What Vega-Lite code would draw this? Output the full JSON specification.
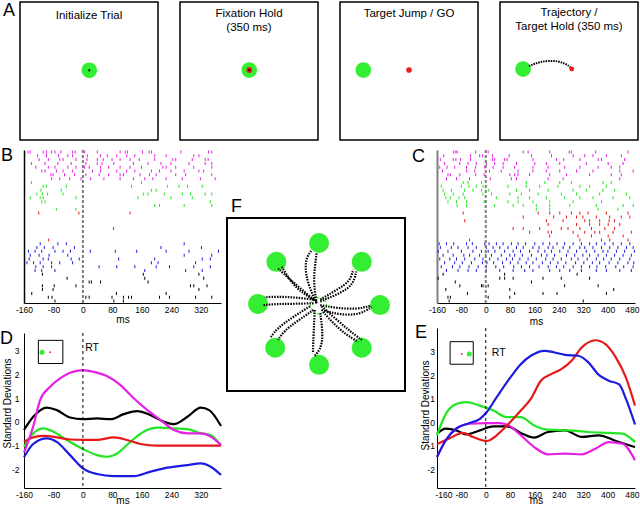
{
"$schema": "https://vega.github.io/schema/vega-lite/v6.json",
"background": "white",
"padding": {"left": 0, "top": 1, "right": 0, "bottom": 0},
"config": {
  "font": "Liberation Sans",
  "view": {"stroke": null},
  "axis": {"grid": false, "ticks": false, "domainColor": "black", "domainWidth": 1, "labelColor": "black", "titleColor": "black", "labelFontSize": 8.5, "titleFontSize": 10, "titleFontWeight": "normal", "labelPadding": 2, "labelFlush": false, "labelOverlap": false, "labelExpr": "'' + datum.value"},
  "title": {"fontWeight": "normal", "color": "black", "fontSize": 18}
},
"datasets": {
  "task": [
    {"box": 1, "obj": "start", "x": 0.502, "y": 0.505},
    {"box": 1, "obj": "cursor", "x": 0.502, "y": 0.505},
    {"box": 2, "obj": "start", "x": 0.502, "y": 0.507},
    {"box": 2, "obj": "target", "x": 0.502, "y": 0.507},
    {"box": 2, "obj": "cursor", "x": 0.502, "y": 0.507},
    {"box": 3, "obj": "start", "x": 0.169, "y": 0.507},
    {"box": 3, "obj": "target", "x": 0.5, "y": 0.507},
    {"box": 4, "obj": "start", "x": 0.167, "y": 0.514},
    {"box": 4, "obj": "target", "x": 0.52, "y": 0.514}
  ],
  "pathA": [
    {"i": 0, "x": 0.21, "y": 0.535}, {"i": 1, "x": 0.25, "y": 0.553}, {"i": 2, "x": 0.3, "y": 0.567},
    {"i": 3, "x": 0.36, "y": 0.575}, {"i": 4, "x": 0.42, "y": 0.571}, {"i": 5, "x": 0.47, "y": 0.555},
    {"i": 6, "x": 0.505, "y": 0.533}, {"i": 7, "x": 0.52, "y": 0.514}
  ],
  "rasterB": [
    {"trial": 1, "dir": "magenta", "ms": [-149,-143,-108,-99,-85,-76,-60,-28,-21,5,39,101,115,121,162,180,186,266,341,350]},
    {"trial": 2, "dir": "magenta", "ms": [-123,-99,-66,-41,-28,12,48,66,92,119,141,195,226,301,315]},
    {"trial": 3, "dir": "magenta", "ms": [-119,-94,-63,-54,-19,11,39,55,79,101,128,153,195,244,252,297,332,340]},
    {"trial": 4, "dir": "magenta", "ms": [-140,-103,-68,-32,8,39,52,84,137,177,212,239,288,332,350]},
    {"trial": 5, "dir": "magenta", "ms": [-128,-94,-76,-41,-19,4,17,48,70,101,128,159,217,226,252,301,350]},
    {"trial": 6, "dir": "magenta", "ms": [-112,-103,-72,-54,-28,-1,26,48,92,119,141,186,208,239,275,315,328]},
    {"trial": 7, "dir": "magenta", "ms": [-87,-81,-50,-23,8,44,70,101,110,155,181,199,252,279,350]},
    {"trial": 8, "dir": "magenta", "ms": [-85,-63,-36,-5,21,57,101,137,168,190,226,270,319,359]},
    {"trial": 9, "dir": "green", "ms": [-140,159]},
    {"trial": 10, "dir": "green", "ms": [-108,-99,-45,132,230,261,284,324]},
    {"trial": 11, "dir": "green", "ms": [-114,-59,186,199]},
    {"trial": 12, "dir": "green", "ms": [-125,-110,-96,-54,164,177,221,270,292,332,350]},
    {"trial": 13, "dir": "green", "ms": [-143,-116,-108,-19,150,239,297]},
    {"trial": 14, "dir": "green", "ms": [-112,-103,346]},
    {"trial": 15, "dir": "green", "ms": [195,208,275,350]},
    {"trial": 16, "dir": "green", "ms": [-72,-19]},
    {"trial": 17, "dir": "red", "ms": [-120,-11,128]},
    {"trial": 21, "dir": "red", "ms": [83]},
    {"trial": 24, "dir": "red", "ms": [-93]},
    {"trial": 25, "dir": "blue", "ms": [-116,-68,-45,275]},
    {"trial": 26, "dir": "blue", "ms": [-125,-105,-81,-23,212,322]},
    {"trial": 27, "dir": "blue", "ms": [-148,-130,-112,-76,-54,-34,20,88,146,226,288,368]},
    {"trial": 28, "dir": "blue", "ms": [-143,-119,-92,-41,275,350]},
    {"trial": 29, "dir": "blue", "ms": [-146,-108,-94,-32,-10,97,195,324,346]},
    {"trial": 30, "dir": "blue", "ms": [-152,-134,-116,-85,-63,-28,186,204,306]},
    {"trial": 31, "dir": "blue", "ms": [-128,-108,-85,44,92,141,199,235,301,346]},
    {"trial": 32, "dir": "blue", "ms": [-130,-112,-76,168,279,324]},
    {"trial": 33, "dir": "black", "ms": [-110,164,315]},
    {"trial": 34, "dir": "black", "ms": [-43,168,328]},
    {"trial": 35, "dir": "black", "ms": [17,23,48,177]},
    {"trial": 36, "dir": "black", "ms": [-110,-78,-19,292,301,337]},
    {"trial": 37, "dir": "black", "ms": [-110,-81,315]},
    {"trial": 38, "dir": "black", "ms": [-139,91,226]},
    {"trial": 39, "dir": "black", "ms": [-94,-84,8,17,79,110,124,132,208,235,306,350]},
    {"trial": 40, "dir": "black", "ms": [-76,84,110]}
  ],
  "rasterC": [
    {"trial": 1, "dir": "magenta", "ms": [-105,-98,-94,-33,8,123,139,210,274,281,361,467]},
    {"trial": 2, "dir": "magenta", "ms": [-138,-50,-20,-11,22,77,150,216,287,325,352,396,445]},
    {"trial": 3, "dir": "magenta", "ms": [-149,-107,-98,-83,-50,22,29,62,70,155,232,256,309,369,380,456]},
    {"trial": 4, "dir": "magenta", "ms": [-135,-85,-58,-31,2,29,57,101,161,199,243,330,402,451]},
    {"trial": 5, "dir": "magenta", "ms": [-151,-127,-102,-63,-33,-3,24,57,95,155,205,259,309,369,412,440]},
    {"trial": 6, "dir": "magenta", "ms": [-142,-63,-36,12,51,106,155,199,243,298,352,440,484]},
    {"trial": 7, "dir": "magenta", "ms": [-124,-116,-85,-33,-5,79,95,106,144,210,265,341,412,445]},
    {"trial": 8, "dir": "magenta", "ms": [-129,-96,-53,15,84,101,205,254,440]},
    {"trial": 9, "dir": "green", "ms": [-74,-58,-14,133,194,243,281,385,412]},
    {"trial": 10, "dir": "green", "ms": [-146,-80,-55,-31,-9,73,133,177,237,309,341,396]},
    {"trial": 11, "dir": "green", "ms": [-140,-113,-69,-42,-14,10,101,144,205,287,330,385,423]},
    {"trial": 12, "dir": "green", "ms": [-135,-107,-74,-9,19,79,117,172,248,298,374,462]},
    {"trial": 13, "dir": "green", "ms": [-131,-116,-88,-69,35,106,144,199,259,309,352,418,473]},
    {"trial": 14, "dir": "green", "ms": [-124,-96,-63,-5,73,106,155,210,287,380]},
    {"trial": 15, "dir": "green", "ms": [-94,-63,29,90,123,166,210,276,363,451,484]},
    {"trial": 16, "dir": "green", "ms": [166,210,369,434]},
    {"trial": 17, "dir": "red", "ms": [-74,172,210,243,281,309,336,396,467]},
    {"trial": 18, "dir": "red", "ms": [123,223,265,298,319,363,407,445,473]},
    {"trial": 19, "dir": "red", "ms": [-69,199,254,325,341,374,405,423]},
    {"trial": 20, "dir": "red", "ms": [205,298,341,374,402,440]},
    {"trial": 21, "dir": "red", "ms": [90,123,177,248,270,309,347,391,423]},
    {"trial": 22, "dir": "red", "ms": [144,205,216,287,325,358,374,418,478]},
    {"trial": 23, "dir": "red", "ms": [210,303,347,402,451]},
    {"trial": 24, "dir": "red", "ms": [-53,309,380,407,467]},
    {"trial": 25, "dir": "blue", "ms": [-153,-129,-105,-63,-44,-3,11,35,57,84,106,131,161,188,210,234,259,287,314,341,363,391,418,445,473]},
    {"trial": 26, "dir": "blue", "ms": [-149,-113,-91,-58,-31,2,24,46,73,101,123,155,175,205,221,254,276,309,325,352,380,407,434,462,484]},
    {"trial": 27, "dir": "blue", "ms": [-156,-124,-80,-42,-14,8,30,62,90,114,144,172,194,216,243,270,298,330,358,385,401,429,456,488]},
    {"trial": 28, "dir": "blue", "ms": [-140,-107,-72,-53,-20,0,19,51,79,95,120,150,183,201,226,265,292,319,341,369,396,423,451,478]},
    {"trial": 29, "dir": "blue", "ms": [-151,-118,-96,-69,-36,-9,13,40,68,88,112,139,166,197,221,248,281,303,333,363,387,412,440,473]},
    {"trial": 30, "dir": "blue", "ms": [-135,-102,-77,-47,-11,4,26,55,81,106,133,155,186,212,237,263,295,322,350,374,405,434,467,486]},
    {"trial": 31, "dir": "blue", "ms": [-146,-109,-85,-55,-25,2,33,59,92,117,144,175,205,232,256,287,314,341,365,394,427,453,484]},
    {"trial": 32, "dir": "blue", "ms": [-129,-91,-58,-31,2,46,90,128,155,210,243,276,314,363,396,440,478]},
    {"trial": 33, "dir": "black", "ms": [-140,62,300]},
    {"trial": 34, "dir": "black", "ms": [-156,46,62,90,188,248,341]},
    {"trial": 35, "dir": "black", "ms": [-100,150]},
    {"trial": 36, "dir": "black", "ms": [-85,-14,-9,8,259,369]},
    {"trial": 37, "dir": "black", "ms": [-131,79,420]},
    {"trial": 38, "dir": "black", "ms": [-60,95,188,234,396]},
    {"trial": 39, "dir": "black", "ms": [-124,-116,8,79]},
    {"trial": 40, "dir": "black", "ms": [-120,320]}
  ],
  "sdD": [
    {"dir": "black", "ms": [-160,-135,-98,-71,-35,0,38,75,111,147,184,220,247,284,320,343,375], "sd": [-0.35,0.21,0.6,0.49,0.18,0.11,0.14,0.11,0.32,0.45,0.28,0,-0.1,0.21,0.6,0.49,-0.18]},
    {"dir": "green", "ms": [-160,-135,-107,-80,-44,0,38,65,93,129,165,202,247,284,320,347,375], "sd": [-1.06,-0.49,-0.28,-0.42,-0.77,-1.15,-1.41,-1.48,-1.34,-0.85,-0.42,-0.25,-0.28,-0.31,-0.49,-0.56,-1.01]},
    {"dir": "red", "ms": [-160,-135,-107,-71,-35,0,38,84,120,156,202,247,320,375], "sd": [-0.85,-0.66,-0.6,-0.66,-0.75,-0.77,-0.77,-0.66,-0.77,-0.94,-1.01,-1.01,-1.01,-1.01]},
    {"dir": "blue", "ms": [-160,-135,-98,-71,-35,0,38,84,138,184,229,284,320,347,375], "sd": [-1.5,-0.94,-0.7,-0.85,-1.41,-1.97,-2.21,-2.3,-2.3,-2.11,-1.94,-1.83,-1.76,-1.9,-2.25]},
    {"dir": "magenta", "ms": [-160,-135,-116,-89,-62,-35,0,29,65,102,138,175,211,247,284,320,347,375], "sd": [-1.3,-0.2,0.92,1.48,1.83,2.07,2.18,2.11,1.93,1.55,0.99,0.49,0.07,-0.35,-0.49,-0.49,-0.63,-0.99]}
  ],
  "sdE": [
    {"dir": "black", "ms": [-160,-131,-97,-64,-19,25,70,115,159,204,260,315,371,427,490], "sd": [-0.49,-0.28,-0.35,-0.52,-0.35,-0.18,-0.18,-0.46,-0.66,-0.42,-0.35,-0.63,-0.56,-0.8,-1.06]},
    {"dir": "green", "ms": [-160,-131,-97,-64,-19,25,70,115,159,204,271,337,404,449,490], "sd": [-0.56,0.35,0.77,0.85,0.7,0.49,0.21,0.21,-0.14,-0.32,-0.35,-0.42,-0.46,-0.49,-0.85]},
    {"dir": "magenta", "ms": [-160,-131,-97,-53,3,47,81,115,159,204,260,315,360,404,449,490], "sd": [-1.48,-0.77,-0.28,-0.07,-0.04,-0.04,-0.18,-0.56,-1.06,-1.37,-1.34,-1.37,-1.13,-0.85,-0.92,-1.62]},
    {"dir": "red", "ms": [-160,-120,-75,-42,3,36,70,115,148,181,215,248,282,315,360,393,427,460,490], "sd": [-0.94,-0.7,-0.46,-0.63,-0.8,-0.56,-0.14,0.49,0.99,1.76,2.04,2.25,2.61,3.17,3.48,3.31,2.75,1.9,0.7]},
    {"dir": "blue", "ms": [-160,-131,-97,-53,-19,3,36,81,115,148,193,226,260,304,337,371,404,438,460,490], "sd": [-1.48,-0.77,-0.28,-0.04,0.14,0.42,1.06,1.9,2.46,2.82,3.03,2.96,2.86,2.82,2.54,2.01,1.76,1.6,1.0,-0.1]}
  ],
  "targetsF": [
    {"x": 0, "y": 1.0}, {"x": 0.7, "y": 0.69}, {"x": 1.0, "y": -0.02}, {"x": 0.7, "y": -0.72},
    {"x": 0, "y": -1.0}, {"x": -0.72, "y": -0.72}, {"x": -1.0, "y": 0}, {"x": -0.7, "y": 0.69}
  ],
  "trajF": [
    {"traj": 1, "i": [0,1,2,3,4], "x": [-0.04,-0.19,-0.23,-0.2,-0.12], "y": [0.01,0.34,0.61,0.78,0.88]},
    {"traj": 2, "i": [0,1,2,3], "x": [-0.04,-0.09,-0.07,-0.04], "y": [0.01,0.34,0.61,0.83]},
    {"traj": 3, "i": [0,1,2,3], "x": [0.02,0.29,0.51,0.56], "y": [0.07,0.23,0.37,0.56]},
    {"traj": 4, "i": [0,1,2,3], "x": [0.02,0.34,0.56,0.61], "y": [0.04,0.17,0.31,0.53]},
    {"traj": 5, "i": [0,1,2,3], "x": [0.02,0.29,0.62,0.84], "y": [-0.02,-0.07,-0.09,-0.03]},
    {"traj": 6, "i": [0,1,2,3], "x": [0.04,0.34,0.67,0.86], "y": [-0.1,-0.18,-0.18,-0.05]},
    {"traj": 7, "i": [0,1,2,3], "x": [0.04,0.29,0.51,0.7], "y": [-0.04,-0.26,-0.45,-0.59]},
    {"traj": 8, "i": [0,1,2,3], "x": [0.07,0.23,0.45,0.64], "y": [-0.13,-0.32,-0.51,-0.62]},
    {"traj": 9, "i": [0,1,2], "x": [-0.07,-0.09,-0.1], "y": [-0.1,-0.48,-0.81]},
    {"traj": 10, "i": [0,1,2,3], "x": [0.02,0.07,0.02,-0.07], "y": [-0.15,-0.54,-0.75,-0.85]},
    {"traj": 11, "i": [0,1,2,3], "x": [-0.15,-0.42,-0.69,-0.8], "y": [-0.04,-0.21,-0.4,-0.56]},
    {"traj": 12, "i": [0,1,2,3], "x": [-0.09,-0.37,-0.58,-0.67], "y": [-0.1,-0.29,-0.45,-0.59]},
    {"traj": 13, "i": [0,1,2,3], "x": [-0.09,-0.42,-0.69,-0.89], "y": [0.07,0.11,0.12,0.11]},
    {"traj": 14, "i": [0,1,2,3], "x": [-0.09,-0.48,-0.69,-0.91], "y": [0.01,0,0,-0.02]},
    {"traj": 15, "i": [0,1,2,3], "x": [-0.09,-0.31,-0.5,-0.67], "y": [0.07,0.26,0.42,0.58]},
    {"traj": 16, "i": [0,1,2,3], "x": [-0.04,-0.26,-0.45,-0.61], "y": [0.04,0.17,0.34,0.61]}
  ]
},
"bounds": "flush",
"spacing": 148,
"vconcat": [
  {
    "bounds": "flush",
    "spacing": 22,
    "hconcat": [
      {
        "width": 138, "height": 138,
        "view": {"stroke": "black", "strokeWidth": 1.5},
        "title": {"text": "A", "anchor": "start", "frame": "group", "orient": "top", "offset": 0, "dx": -17, "dy": 17.8, "baseline": "top", "align": "left"},
        "layer": [
          {"data": {"name": "task"}, "transform": [{"filter": "datum.box === 1 && datum.obj === 'start'"}], "mark": {"type": "circle", "color": "#33ee33", "size": 246, "opacity": 1},
           "encoding": {"x": {"field": "x", "type": "quantitative", "scale": {"domain": [0, 1], "nice": false, "zero": false}, "axis": null}, "y": {"field": "y", "type": "quantitative", "scale": {"domain": [0, 1], "nice": false, "zero": false}, "axis": null}}},
          {"data": {"name": "task"}, "transform": [{"filter": "datum.box === 1 && datum.obj === 'cursor'"}], "mark": {"type": "circle", "color": "#000000", "size": 5, "opacity": 1},
           "encoding": {"x": {"field": "x", "type": "quantitative"}, "y": {"field": "y", "type": "quantitative"}}},
          {"data": {"values": [{}]}, "mark": {"type": "text", "fontSize": 11.5, "align": "center", "baseline": "alphabetic", "color": "black"}, "encoding": {"x": {"datum": 0.5}, "y": {"datum": 0.875}, "text": {"value": "Initialize Trial"}}}
        ]
      },
      {
        "width": 138, "height": 138,
        "view": {"stroke": "black", "strokeWidth": 1.5},
        "layer": [
          {"data": {"name": "task"}, "transform": [{"filter": "datum.box === 2 && datum.obj === 'start'"}], "mark": {"type": "circle", "color": "#33ee33", "size": 246, "opacity": 1},
           "encoding": {"x": {"field": "x", "type": "quantitative", "scale": {"domain": [0, 1], "nice": false, "zero": false}, "axis": null}, "y": {"field": "y", "type": "quantitative", "scale": {"domain": [0, 1], "nice": false, "zero": false}, "axis": null}}},
          {"data": {"name": "task"}, "transform": [{"filter": "datum.box === 2 && datum.obj === 'target'"}], "mark": {"type": "circle", "color": "#ee1c1c", "size": 34, "opacity": 1},
           "encoding": {"x": {"field": "x", "type": "quantitative"}, "y": {"field": "y", "type": "quantitative"}}},
          {"data": {"name": "task"}, "transform": [{"filter": "datum.box === 2 && datum.obj === 'cursor'"}], "mark": {"type": "circle", "color": "#000000", "size": 5, "opacity": 1},
           "encoding": {"x": {"field": "x", "type": "quantitative"}, "y": {"field": "y", "type": "quantitative"}}},
          {"data": {"values": [{}]}, "mark": {"type": "text", "fontSize": 11.5, "align": "center", "baseline": "alphabetic", "lineHeight": 13.5, "color": "black"}, "encoding": {"x": {"datum": 0.5}, "y": {"datum": 0.889}, "text": {"value": ["Fixation Hold", "(350 ms)"]}}}
        ]
      },
      {
        "width": 138, "height": 138,
        "view": {"stroke": "black", "strokeWidth": 1.5},
        "layer": [
          {"data": {"name": "task"}, "transform": [{"filter": "datum.box === 3 && datum.obj === 'start'"}], "mark": {"type": "circle", "color": "#33ee33", "size": 246, "opacity": 1},
           "encoding": {"x": {"field": "x", "type": "quantitative", "scale": {"domain": [0, 1], "nice": false, "zero": false}, "axis": null}, "y": {"field": "y", "type": "quantitative", "scale": {"domain": [0, 1], "nice": false, "zero": false}, "axis": null}}},
          {"data": {"name": "task"}, "transform": [{"filter": "datum.box === 3 && datum.obj === 'target'"}], "mark": {"type": "circle", "color": "#ee1c1c", "size": 32, "opacity": 1},
           "encoding": {"x": {"field": "x", "type": "quantitative"}, "y": {"field": "y", "type": "quantitative"}}},
          {"data": {"values": [{}]}, "mark": {"type": "text", "fontSize": 11.5, "align": "center", "baseline": "alphabetic", "color": "black"}, "encoding": {"x": {"datum": 0.5}, "y": {"datum": 0.889}, "text": {"value": "Target Jump / GO"}}}
        ]
      },
      {
        "width": 138, "height": 138,
        "view": {"stroke": "black", "strokeWidth": 1.5},
        "layer": [
          {"data": {"name": "task"}, "transform": [{"filter": "datum.box === 4 && datum.obj === 'start'"}], "mark": {"type": "circle", "color": "#33ee33", "size": 246, "opacity": 1},
           "encoding": {"x": {"field": "x", "type": "quantitative", "scale": {"domain": [0, 1], "nice": false, "zero": false}, "axis": null}, "y": {"field": "y", "type": "quantitative", "scale": {"domain": [0, 1], "nice": false, "zero": false}, "axis": null}}},
          {"data": {"name": "pathA"}, "mark": {"type": "line", "color": "black", "strokeWidth": 2, "strokeDash": [1.5, 1], "interpolate": "basis"},
           "encoding": {"x": {"field": "x", "type": "quantitative"}, "y": {"field": "y", "type": "quantitative"}, "order": {"field": "i", "type": "quantitative"}}},
          {"data": {"name": "task"}, "transform": [{"filter": "datum.box === 4 && datum.obj === 'target'"}], "mark": {"type": "circle", "color": "#ee1c1c", "size": 24, "opacity": 1},
           "encoding": {"x": {"field": "x", "type": "quantitative"}, "y": {"field": "y", "type": "quantitative"}}},
          {"data": {"values": [{}]}, "mark": {"type": "text", "fontSize": 11.5, "align": "center", "baseline": "alphabetic", "lineHeight": 14, "color": "black"}, "encoding": {"x": {"datum": 0.5}, "y": {"datum": 0.899}, "text": {"value": ["Trajectory /", "Target Hold (350 ms)"]}}}
        ]
      }
    ]
  },
  {
    "bounds": "flush",
    "spacing": 3,
    "hconcat": [
      {"width": 1, "height": 1, "data": {"values": [{}]}, "mark": {"type": "point", "opacity": 0}},
      {
        "bounds": "flush",
        "spacing": 203,
        "hconcat": [
          {
            "bounds": "flush",
            "spacing": 30,
            "vconcat": [
              {
                "width": 197, "height": 153,
                "title": {"text": "B", "anchor": "start", "frame": "group", "orient": "top", "offset": 0, "dx": -23, "dy": 15.5, "baseline": "top", "align": "left"},
                "layer": [
                  {
                    "data": {"name": "rasterB"},
                    "transform": [{"flatten": ["ms"]}],
                    "mark": {"type": "tick", "orient": "vertical", "size": 3, "thickness": 1, "opacity": 1},
                    "encoding": {
                      "x": {"field": "ms", "type": "quantitative", "scale": {"domain": [-160, 375], "nice": false, "zero": false}, "axis": {"values": [-160, -80, 0, 80, 160, 240, 320], "tickCount": 20, "title": "ms", "titleY": 19.5, "titleBaseline": "alphabetic", "labelOverlap": false, "labelFlush": false}},
                      "y": {"field": "trial", "type": "quantitative", "scale": {"domain": [0.5, 40.5], "reverse": true, "nice": false, "zero": false}, "axis": {"title": null, "labels": false, "domainWidth": 1.5}},
                      "color": {"field": "dir", "type": "nominal", "scale": {"domain": ["magenta", "green", "red", "blue", "black"], "range": ["#e61ee6", "#22e622", "#e61919", "#1c1ce0", "#000000"]}, "legend": null}
                    }
                  },
                  {"data": {"values": [{}]}, "mark": {"type": "rule", "color": "#7f7f7f", "strokeWidth": 2, "strokeDash": [3, 2]}, "encoding": {"x": {"datum": 0}}}
                ]
              },
              {
                "width": 197, "height": 155,
                "title": {"text": "D", "anchor": "start", "frame": "group", "orient": "top", "offset": 0, "dx": -24, "dy": 15, "baseline": "top", "align": "left"},
                "layer": [
                  {
                    "data": {"name": "sdD"},
                    "transform": [{"flatten": ["ms", "sd"]}],
                    "mark": {"type": "line", "strokeWidth": 2.2, "interpolate": "monotone"},
                    "encoding": {
                      "x": {"field": "ms", "type": "quantitative", "scale": {"domain": [-160, 375], "nice": false, "zero": false}, "axis": {"values": [-160, -80, 0, 80, 160, 240, 320], "tickCount": 20, "title": "ms", "titleY": 15, "titleBaseline": "alphabetic", "labelOverlap": false, "labelFlush": false}},
                      "y": {"field": "sd", "type": "quantitative", "scale": {"domain": [-2.8, 3.75], "nice": false, "zero": false}, "axis": {"values": [-2, -1, 0, 1, 2, 3], "tickCount": 20, "title": "Standard Deviations", "labelPadding": 5, "titleX": -13.3, "titleY": 70, "titleBaseline": "alphabetic", "labelOverlap": false}},
                      "color": {"field": "dir", "type": "nominal", "scale": {"domain": ["magenta", "green", "red", "blue", "black"], "range": ["#e61ee6", "#22e622", "#e61919", "#1c1ce0", "#000000"]}, "legend": null}
                    }
                  },
                  {"data": {"values": [{}]}, "mark": {"type": "rule", "color": "black", "strokeWidth": 1, "strokeDash": [3, 3]}, "encoding": {"x": {"datum": 0}}},
                  {"data": {"values": [{}]}, "mark": {"type": "text", "fontSize": 10.5, "align": "left", "baseline": "alphabetic", "color": "black"}, "encoding": {"x": {"datum": 6}, "y": {"datum": 3.0}, "text": {"value": "RT"}}},
                  {"data": {"values": [{}]}, "mark": {"type": "rect", "fill": "white", "stroke": "black", "strokeWidth": 1}, "encoding": {"x": {"datum": -121}, "x2": {"datum": -54.5}, "y": {"datum": 3.44}, "y2": {"datum": 2.46}}},
                  {"data": {"values": [{}]}, "mark": {"type": "circle", "color": "#33ee33", "size": 25, "opacity": 1}, "encoding": {"x": {"datum": -111}, "y": {"datum": 2.94}}},
                  {"data": {"values": [{}]}, "mark": {"type": "circle", "color": "#ee1c1c", "size": 3, "opacity": 1}, "encoding": {"x": {"datum": -89}, "y": {"datum": 2.94}}}
                ]
              }
            ]
          },
          {
            "bounds": "flush",
            "spacing": 210,
            "hconcat": [
              {
                "bounds": "flush",
                "spacing": 8,
                "vconcat": [
                  {"width": 1, "height": 60, "data": {"values": [{}]}, "mark": {"type": "point", "opacity": 0}},
                  {
                    "width": 178, "height": 173,
                    "view": {"stroke": "black", "strokeWidth": 2},
                    "title": {"text": "F", "anchor": "start", "frame": "group", "orient": "top", "offset": 0, "dx": 4, "dy": -2.5, "baseline": "top", "align": "left"},
                    "encoding": {
                      "x": {"field": "x", "type": "quantitative", "scale": {"domain": [-1.51, 1.41], "nice": false, "zero": false}, "axis": null},
                      "y": {"field": "y", "type": "quantitative", "scale": {"domain": [-1.43, 1.41], "nice": false, "zero": false}, "axis": null}
                    },
                    "layer": [
                      {"data": {"name": "targetsF"}, "mark": {"type": "circle", "color": "#33ee33", "size": 400, "opacity": 1}},
                      {"data": {"values": [{"x": -0.01, "y": -0.03}]}, "mark": {"type": "point", "shape": "circle", "filled": false, "color": "#33ee33", "size": 256, "strokeWidth": 1.2, "strokeDash": [2, 2], "opacity": 1}},
                      {"data": {"name": "trajF"}, "transform": [{"flatten": ["i", "x", "y"]}], "mark": {"type": "line", "color": "black", "strokeWidth": 2.2, "strokeDash": [1.5, 1.2], "interpolate": "basis"}, "encoding": {"detail": {"field": "traj", "type": "nominal"}, "order": {"field": "i", "type": "quantitative"}}}
                    ]
                  }
                ]
              },
              {
                "bounds": "flush",
                "spacing": 25,
                "vconcat": [
                  {
                    "width": 198, "height": 153,
                    "title": {"text": "C", "anchor": "start", "frame": "group", "orient": "top", "offset": 0, "dx": -25, "dy": 16.5, "baseline": "top", "align": "left"},
                    "layer": [
                      {
                        "data": {"name": "rasterC"},
                        "transform": [{"flatten": ["ms"]}],
                        "mark": {"type": "tick", "orient": "vertical", "size": 3, "thickness": 1, "opacity": 1},
                        "encoding": {
                          "x": {"field": "ms", "type": "quantitative", "scale": {"domain": [-160, 490], "nice": false, "zero": false}, "axis": {"values": [-160, -80, 0, 80, 160, 240, 320, 400, 480], "tickCount": 20, "title": "ms", "titleY": 21, "titleBaseline": "alphabetic", "labelOverlap": false, "labelFlush": false}},
                          "y": {"field": "trial", "type": "quantitative", "scale": {"domain": [0.5, 40.5], "reverse": true, "nice": false, "zero": false}, "axis": {"title": null, "labels": false, "domainWidth": 2, "domainColor": "#808080"}},
                          "color": {"field": "dir", "type": "nominal", "scale": {"domain": ["magenta", "green", "red", "blue", "black"], "range": ["#e61ee6", "#22e622", "#e61919", "#1c1ce0", "#000000"]}, "legend": null}
                        }
                      },
                      {"data": {"values": [{}]}, "mark": {"type": "rule", "color": "#7f7f7f", "strokeWidth": 2, "strokeDash": [3, 2]}, "encoding": {"x": {"datum": 0}}}
                    ]
                  },
                  {
                    "width": 198, "height": 160,
                    "title": {"text": "E", "anchor": "start", "frame": "group", "orient": "top", "offset": 0, "dx": -22, "dy": 14.5, "baseline": "top", "align": "left"},
                    "layer": [
                      {
                        "data": {"name": "sdE"},
                        "transform": [{"flatten": ["ms", "sd"]}],
                        "mark": {"type": "line", "strokeWidth": 2.2, "interpolate": "monotone"},
                        "encoding": {
                          "x": {"field": "ms", "type": "quantitative", "scale": {"domain": [-160, 490], "nice": false, "zero": false}, "axis": {"values": [-160, -80, 0, 80, 160, 240, 320, 400, 480], "tickCount": 20, "title": "ms", "titleY": 15, "titleBaseline": "alphabetic", "labelFlush": true, "labelFlushOffset": 2, "labelOverlap": false}},
                          "y": {"field": "sd", "type": "quantitative", "scale": {"domain": [-2.8, 4.0], "nice": false, "zero": false}, "axis": {"values": [-2, -1, 0, 1, 2, 3], "tickCount": 20, "title": "Standard Deviations", "labelPadding": 2.5, "titleX": -8.7, "titleY": 77, "titleBaseline": "alphabetic", "labelOverlap": false}},
                          "color": {"field": "dir", "type": "nominal", "scale": {"domain": ["magenta", "green", "red", "blue", "black"], "range": ["#e61ee6", "#22e622", "#e61919", "#1c1ce0", "#000000"]}, "legend": null}
                        }
                      },
                      {"data": {"values": [{}]}, "mark": {"type": "rule", "color": "black", "strokeWidth": 1, "strokeDash": [3, 3]}, "encoding": {"x": {"datum": 0}}},
                      {"data": {"values": [{}]}, "mark": {"type": "text", "fontSize": 10.5, "align": "left", "baseline": "alphabetic", "color": "black"}, "encoding": {"x": {"datum": 20}, "y": {"datum": 2.79}, "text": {"value": "RT"}}},
                      {"data": {"values": [{}]}, "mark": {"type": "rect", "fill": "white", "stroke": "black", "strokeWidth": 1}, "encoding": {"x": {"datum": -117}, "x2": {"datum": -41}, "y": {"datum": 3.42}, "y2": {"datum": 2.46}}},
                      {"data": {"values": [{}]}, "mark": {"type": "circle", "color": "#33ee33", "size": 25, "opacity": 1}, "encoding": {"x": {"datum": -54}, "y": {"datum": 2.9}}},
                      {"data": {"values": [{}]}, "mark": {"type": "circle", "color": "#ee1c1c", "size": 3, "opacity": 1}, "encoding": {"x": {"datum": -79}, "y": {"datum": 2.9}}}
                    ]
                  }
                ]
              }
            ]
          }
        ]
      }
    ]
  }
]
}
